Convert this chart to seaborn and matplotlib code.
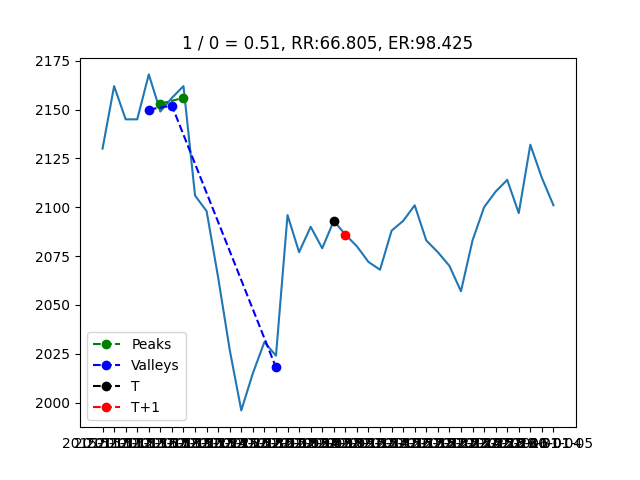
import pandas as pd
import matplotlib
matplotlib.use("Agg")
import matplotlib.pyplot as plt
import seaborn as sns

dates = list(pd.bdate_range(end="2016-01-05", periods=40).strftime("%Y-%m-%d"))
close = [2130, 2162, 2145, 2145, 2168, 2149, 2156, 2162, 2106, 2098,
         2064, 2027, 1996, 2015, 2031, 2024, 2096, 2077, 2090, 2079,
         2093, 2086, 2080, 2072, 2068, 2088, 2093, 2101, 2083, 2077,
         2070, 2057, 2083, 2100, 2108, 2114, 2097, 2132, 2115, 2101]
peak_idx = [5, 7]
peak_val = [2153, 2156]
valley_idx = [4, 6, 15]
valley_val = [2150, 2152, 2018]
t_idx, t_val = [20], [2093]
t1_idx, t1_val = [21], [2086]

fig, ax = plt.subplots(figsize=(6.4, 4.8), dpi=100)
sns.lineplot(x=dates, y=close, ax=ax, sort=False)
ax.plot([dates[i] for i in peak_idx], peak_val, "go--", label="Peaks")
ax.plot([dates[i] for i in valley_idx], valley_val, "bo--", label="Valleys")
ax.plot([dates[i] for i in t_idx], t_val, "ko--", label="T")
ax.plot([dates[i] for i in t1_idx], t1_val, "ro--", label="T+1")
ax.set_title("1 / 0 = 0.51, RR:66.805, ER:98.425")
ax.legend(loc="lower left")
fig.savefig("out.png")
